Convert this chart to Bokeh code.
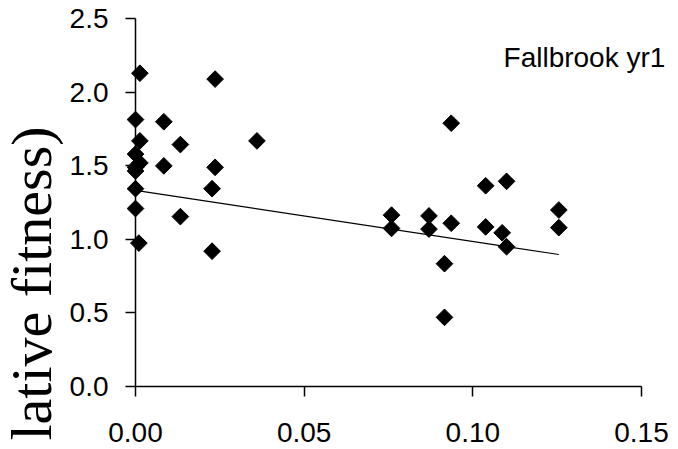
import numpy as np
from bokeh.plotting import figure
from bokeh.models import Range1d, FixedTicker, NumeralTickFormatter, ColumnDataSource
from bokeh.core.properties import value
from bokeh.embed import file_html
from bokeh.resources import INLINE

# ---- data ----
x_vals = [0.0013, 0.0236, 0.0, 0.0084, 0.0013, 0.0133, 0.036, 0.0, 0.0013, 0.0084,
          0.0236, 0.0, 0.0, 0.0, 0.0227, 0.0, 0.0133, 0.001, 0.0227,
          0.0936, 0.1038, 0.110, 0.1255, 0.0759, 0.0759, 0.087, 0.087, 0.0936,
          0.0916, 0.0916, 0.1038, 0.1087, 0.110, 0.1255]
y_vals = [2.13, 2.09, 1.815, 1.80, 1.67, 1.645, 1.67, 1.58, 1.52, 1.50,
          1.49, 1.49, 1.465, 1.345, 1.345, 1.21, 1.155, 0.975, 0.92,
          1.79, 1.365, 1.395, 1.20, 1.165, 1.075, 1.16, 1.07, 1.11,
          0.835, 0.47, 1.085, 1.045, 0.95, 1.08]

trend_intercept = 1.333
trend_slope = -3.47

x_ticks = [0.0, 0.05, 0.10, 0.15]
y_ticks = [0.0, 0.5, 1.0, 1.5, 2.0, 2.5]

panel_title = "Fallbrook yr1"
y_label_visible = "lative fitness)"

# ---- layout: the frame fills the whole canvas, axes are pinned at 0 ----
W, H = 678, 449
X0_PX, XU = 135.0, 3373.3      # pixel of x=0, pixels per x unit
Y0_PX, YU = 386.0, 147.08      # pixel (from top) of y=0, pixels per y unit

p = figure(frame_width=W, frame_height=H,
           x_range=Range1d(-X0_PX / XU, (W - X0_PX) / XU),
           y_range=Range1d((Y0_PX - H) / YU, Y0_PX / YU),
           output_backend="svg", toolbar_location=None,
           min_border=0, min_border_left=0, min_border_right=0,
           min_border_top=0, min_border_bottom=0)
p.xgrid.visible = False
p.ygrid.visible = False
p.outline_line_color = None

for ax in (p.xaxis[0], p.yaxis[0]):
    ax.fixed_location = 0
    ax.axis_line_color = "black"
    ax.axis_line_width = 1.5
    ax.major_tick_line_color = "black"
    ax.major_tick_line_width = 1.5
    ax.major_tick_in = 0
    ax.major_tick_out = 10
    ax.minor_tick_line_color = None
    ax.major_label_text_font = "Liberation Sans"
    ax.major_label_text_font_size = "28px"
    ax.major_label_text_color = "black"

p.xaxis[0].ticker = FixedTicker(ticks=x_ticks)
p.xaxis[0].formatter = NumeralTickFormatter(format="0.00")
p.xaxis[0].major_label_standoff = 26
p.xaxis[0].bounds = (x_ticks[0], x_ticks[-1])
p.yaxis[0].ticker = FixedTicker(ticks=y_ticks)
p.yaxis[0].formatter = NumeralTickFormatter(format="0.0")
p.yaxis[0].major_label_standoff = 17
p.yaxis[0].bounds = (y_ticks[0], y_ticks[-1])

# trend line from the fitted coefficients over the data's x extent
tx = np.array([min(x_vals), max(x_vals)])
ty = trend_intercept + trend_slope * tx
p.line(tx, ty, line_color="black", line_width=1.2)

src = ColumnDataSource(dict(x=x_vals, y=y_vals))
p.scatter("x", "y", source=src, marker="square", angle=np.pi / 4, size=11.8,
          fill_color="black", line_color="black")

p.text(x=[0.1091], y=[2.236], text=[panel_title], text_align="left",
       text_baseline="alphabetic", text_font=value("Liberation Sans"),
       text_font_size=value("28px"), text_color="black")

p.text(x=[(31 - X0_PX) / XU], y=[(Y0_PX - 283) / YU], text=[y_label_visible],
       angle=np.pi / 2, text_align="center", text_baseline="middle",
       text_font=value("Liberation Serif"), text_font_size=value("58px"),
       text_color="black")

open("out.html", "w").write(file_html(p, INLINE))
